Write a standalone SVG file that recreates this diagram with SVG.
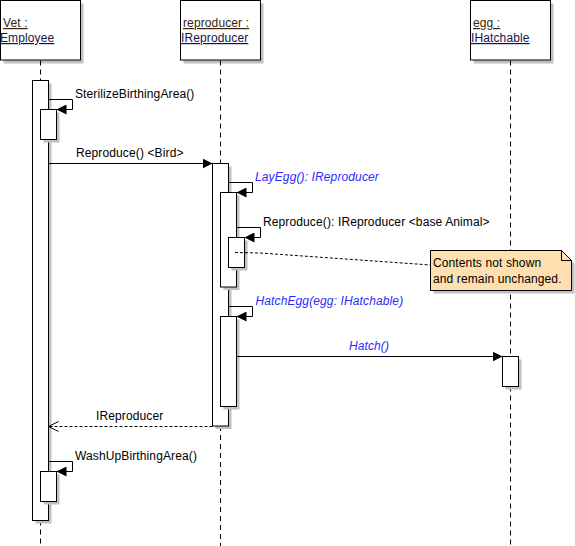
<svg xmlns="http://www.w3.org/2000/svg" width="575" height="546" viewBox="0 0 575 546">
<style>
.bg{fill:#fff}
.box{fill:#fff;stroke:#000;stroke-width:1}
.sh{fill:#c0c0c0}
.life{stroke:#000;stroke-width:1;stroke-dasharray:5 4;fill:none}
.msg{stroke:#000;stroke-width:1;fill:none}
.ret{stroke:#000;stroke-width:1;fill:none;stroke-dasharray:3 2}
.t{font-family:"Liberation Sans",Arial,sans-serif;font-size:12px;letter-spacing:0.12px;fill:#000}
.b{fill:#2a2aff;font-style:italic}
.n1{fill:#3a2410;text-decoration:underline}
.n2{fill:#141450;text-decoration:underline}
.note{fill:#ffdfb0;stroke:#000;stroke-width:1}
</style>
<defs>
<marker id="fa" viewBox="0 0 10 10" refX="10" refY="5" markerWidth="10" markerHeight="10" markerUnits="userSpaceOnUse" orient="auto">
<path d="M0,0 L10,5 L0,10 z" fill="#000"/>
</marker>
<marker id="oa" viewBox="-1 -1 12 12" refX="10" refY="5" markerWidth="12" markerHeight="12" markerUnits="userSpaceOnUse" orient="auto">
<path d="M0,0 L10,5 L0,10" fill="none" stroke="#000" stroke-width="1"/>
</marker>
</defs>
<rect class="bg" x="0" y="0" width="575" height="546"/>

<g id="vet">
<rect class="sh" x="3.5" y="3.5" width="80" height="60"/>
<rect class="box" x="0.5" y="0.5" width="80" height="59.5"/>
<text class="t n1" x="3" y="27">Vet :</text>
<text class="t n2" x="0" y="42">Employee</text>
<line class="life" x1="40.5" y1="60.5" x2="40.5" y2="80.5"/>
<line class="life" x1="40.5" y1="520.5" x2="40.5" y2="546"/>
<rect class="sh" x="35.5" y="83.5" width="16" height="440"/>
<rect class="box" x="32.5" y="80.5" width="16" height="440"/>
<rect class="sh" x="43.5" y="112.5" width="16" height="30"/>
<rect class="box" x="40.5" y="109.5" width="16" height="30"/>
<rect class="sh" x="43.5" y="474.5" width="16" height="30"/>
<rect class="box" x="40.5" y="471.5" width="16" height="30"/>
</g>

<g id="reproducer">
<rect class="sh" x="183.5" y="3.5" width="80" height="60"/>
<rect class="box" x="180.5" y="0.5" width="80" height="59.5"/>
<text class="t n1" x="183" y="27">reproducer :</text>
<text class="t n2" x="181" y="42">IReproducer</text>
<line class="life" x1="220.5" y1="60.5" x2="220.5" y2="163.5"/>
<line class="life" x1="220.5" y1="426" x2="220.5" y2="546"/>
<rect class="sh" x="215.5" y="166.5" width="16" height="262.5"/>
<rect class="box" x="212.5" y="163.5" width="16" height="262.5"/>
<rect class="sh" x="223.5" y="195.5" width="16" height="94.5"/>
<rect class="box" x="220.5" y="192.5" width="16" height="94.5"/>
<rect class="sh" x="231.5" y="240.5" width="16" height="30"/>
<rect class="box" x="228.5" y="237.5" width="16" height="30"/>
<rect class="sh" x="223.5" y="319.5" width="16" height="90"/>
<rect class="box" x="220.5" y="316.5" width="16" height="90"/>
</g>

<g id="egg">
<rect class="sh" x="473.5" y="3.5" width="80" height="60"/>
<rect class="box" x="470.5" y="0.5" width="80" height="59.5"/>
<text class="t n1" x="473" y="27">egg :</text>
<text class="t n2" x="471" y="42">IHatchable</text>
<line class="life" x1="510.5" y1="60.5" x2="510.5" y2="356.5"/>
<line class="life" x1="510.5" y1="386.5" x2="510.5" y2="546"/>
<rect class="sh" x="505.5" y="359.5" width="16" height="30"/>
<rect class="box" x="502.5" y="356.5" width="16" height="30"/>
</g>

<g id="note">
<polygon class="sh" points="433.5,253.5 564.5,253.5 574.5,263.5 574.5,293.5 433.5,293.5"/>
<polygon class="note" points="430.5,250.5 561.5,250.5 571.5,260.5 571.5,290.5 430.5,290.5"/>
<polyline class="msg" points="561.5,250.5 561.5,260.5 571.5,260.5"/>
<text class="t" x="433" y="267">Contents not shown</text>
<text class="t" x="433" y="282.5">and remain unchanged.</text>
</g>

<g id="connectors">
<polyline class="msg" points="48.5,99.5 72.5,99.5 72.5,109.5 56.5,109.5" marker-end="url(#fa)"/>
<text class="t" x="75" y="97.5">SterilizeBirthingArea()</text>
<line class="msg" x1="48.5" y1="163.5" x2="212.5" y2="163.5" marker-end="url(#fa)"/>
<text class="t" x="76" y="156.5">Reproduce() &lt;Bird&gt;</text>
<polyline class="msg" points="228.5,182.5 252.5,182.5 252.5,192.5 236.5,192.5" marker-end="url(#fa)"/>
<text class="t b" x="255" y="180.5">LayEgg(): IReproducer</text>
<polyline class="msg" points="236.5,227.5 260.5,227.5 260.5,237.5 244.5,237.5" marker-end="url(#fa)"/>
<text class="t" x="263" y="225.5">Reproduce(): IReproducer &lt;base Animal&gt;</text>
<polyline class="ret" points="235,252.5 260,253 430.5,265"/>
<polyline class="msg" points="228.5,306.5 252.5,306.5 252.5,316.5 236.5,316.5" marker-end="url(#fa)"/>
<text class="t b" x="255.5" y="304.5">HatchEgg(egg: IHatchable)</text>
<line class="msg" x1="236.5" y1="356.5" x2="502.5" y2="356.5" marker-end="url(#fa)"/>
<text class="t b" x="369" y="349.5" text-anchor="middle">Hatch()</text>
<line class="ret" x1="212.5" y1="426.5" x2="48.5" y2="426.5" marker-end="url(#oa)"/>
<text class="t" x="96" y="419.5">IReproducer</text>
<polyline class="msg" points="48.5,461.5 72.5,461.5 72.5,471.5 56.5,471.5" marker-end="url(#fa)"/>
<text class="t" x="75" y="459.5">WashUpBirthingArea()</text>
</g>
</svg>
